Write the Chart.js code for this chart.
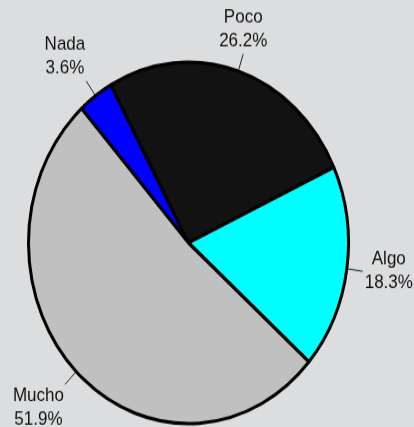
<!DOCTYPE html>
<html>
<head>
<meta charset="utf-8">
<script src="https://cdn.jsdelivr.net/npm/chart.js@4"></script>
<style>
  html { margin: 0; padding: 0; background: #dcdddf; overflow: hidden; }
  body { margin: 0; padding: 0; width: 414px; height: 427px; }
  #wrap { width: 414px; height: 378px; transform: scaleY(1.1296); transform-origin: 0 0; }
</style>
</head>
<body>
<div id="wrap"><canvas id="pieChart" width="414" height="378"></canvas></div>
<script>
const labels = ['Nada', 'Poco', 'Algo', 'Mucho'];
const values = [3.6, 26.2, 18.3, 51.9];
const sliceColors = ['#0000ff', '#121212', '#00ffff', '#c0c0c0'];

// outside labels with short leader lines
const outLabels = {
    id: 'outLabels',
    afterDatasetsDraw(chart) {
        const ctx = chart.ctx;
        const meta = chart.getDatasetMeta(0);
        const lineH = 21;
        ctx.save();
        ctx.font = '17px "Liberation Sans", Arial, sans-serif';
        ctx.fillStyle = '#111';
        ctx.strokeStyle = '#222';
        ctx.lineWidth = 1;
        ctx.textAlign = 'center';
        ctx.textBaseline = 'middle';
        meta.data.forEach((arc, i) => {
            const p = arc.getProps(['x', 'y', 'startAngle', 'endAngle', 'outerRadius'], true);
            const mid = (p.startAngle + p.endAngle) / 2;
            const c = Math.cos(mid), s = Math.sin(mid);
            const r0 = p.outerRadius + 1, r1 = p.outerRadius + 16;
            const ex = p.x + c * r1, ey = p.y + s * r1;
            ctx.beginPath();
            ctx.moveTo(p.x + c * r0, p.y + s * r0);
            ctx.lineTo(ex, ey);
            ctx.stroke();

            const lines = [labels[i], values[i].toFixed(1) + '%'];
            const w = Math.max(...lines.map(t => ctx.measureText(t).width));
            let left;
            if (Math.abs(c) < 0.4) left = ex - w / 2;
            else if (c > 0) left = ex + 2;
            else left = ex - 1 - w;
            let top;
            if (s < -0.5) top = ey - 2 * lineH - 1;
            else if (s > 0.5) top = ey - 1;
            else top = ey - lineH;
            lines.forEach((t, k) => {
                ctx.fillText(t, left + w / 2, top + lineH * (k + 0.5));
            });
        });
        ctx.restore();
    }
};

new Chart(document.getElementById('pieChart').getContext('2d'), {
    type: 'pie',
    data: {
        labels: labels,
        datasets: [{
            data: values,
            backgroundColor: sliceColors,
            borderColor: '#000',
            borderWidth: 3
        }]
    },
    options: {
        responsive: false,
        animation: false,
        rotation: -42,
        radius: 160,
        layout: { padding: { left: 20, right: 57, top: 52, bottom: 0 } },
        plugins: {
            legend: { display: false },
            tooltip: { enabled: false }
        }
    },
    plugins: [outLabels]
});
</script>
</body>
</html>
